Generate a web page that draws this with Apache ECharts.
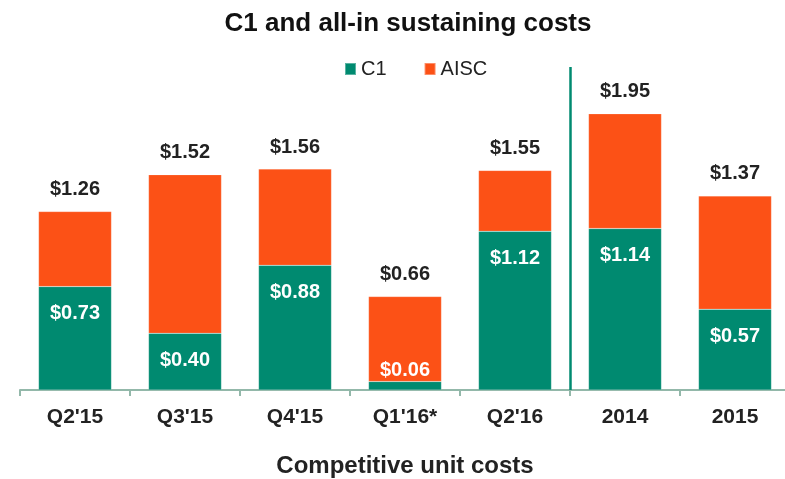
<!DOCTYPE html>
<html>
<head>
<meta charset="utf-8">
<script src="https://cdn.jsdelivr.net/npm/echarts@6/dist/echarts.min.js"></script>
<style>
  html, body { margin: 0; padding: 0; background: #fff; }
  #chart { width: 785px; height: 479px; }
</style>
</head>
<body>
<div id="chart"></div>
<script>
const categories = ["Q2'15", "Q3'15", "Q4'15", "Q1'16*", "Q2'16", '2014', '2015'];
const c1Values = [0.73, 0.40, 0.88, 0.06, 1.12, 1.14, 0.57];
const totalValues = [1.26, 1.52, 1.56, 0.66, 1.55, 1.95, 1.37];
const aiscValues = totalValues.map((t, i) => +(t - c1Values[i]).toFixed(2));
// quarterly figures on the left, full years on the right of the divider
const dividerAfter = 5;

const TEAL = '#008a70';
const ORANGE = '#fc5116';
const FONT = '"Liberation Sans", Arial, sans-serif';

const chart = echarts.init(document.getElementById('chart'));

const c1Data = c1Values.map(v => {
  // tiny segment: label sits above it, over the orange part
  if (v < 0.2) return { value: v, label: { position: 'top', distance: 1 } };
  return v;
});

chart.setOption({
  animation: false,
  textStyle: { fontFamily: FONT },
  title: {
    text: 'C1 and all-in sustaining costs',
    left: 403, top: 6, textAlign: 'center',
    textStyle: { fontSize: 26, fontWeight: 'bold', color: '#111', fontFamily: FONT }
  },
  legend: {
    top: 54, left: 339,
    itemWidth: 11, itemHeight: 12, itemGap: 37,
    icon: 'rect',
    textStyle: { fontSize: 20, color: '#222', fontFamily: FONT },
    data: ['C1', 'AISC']
  },
  grid: { left: 20, top: 67, width: 770, bottom: 89, containLabel: false, outerBoundsMode: 'none' },
  xAxis: [
    {
      type: 'category',
      data: categories,
      axisLine: { lineStyle: { color: '#93b8aa', width: 2 } },
      axisTick: { show: true, length: 6, lineStyle: { color: '#93b8aa', width: 2 } },
      axisLabel: { margin: 17, fontSize: 21, fontWeight: 'bold', color: '#222', fontFamily: FONT },
      name: 'Competitive unit costs',
      nameLocation: 'middle',
      nameGap: 64,
      nameTextStyle: { fontSize: 24, fontWeight: 'bold', color: '#222', fontFamily: FONT }
    },
    { type: 'value', min: 0, max: categories.length, show: false }
  ],
  yAxis: { type: 'value', min: 0, max: 2.28, show: false },
  series: [
    {
      name: 'C1', type: 'bar', stack: 'cost', barWidth: 73,
      itemStyle: { color: TEAL, borderColor: 'rgba(255,255,255,0.35)', borderWidth: 0.5 },
      label: {
        show: true, position: 'insideTop', distance: 17,
        color: '#fff', fontSize: 20, fontWeight: 'bold', fontFamily: FONT,
        formatter: p => '$' + p.value.toFixed(2)
      },
      data: c1Data
    },
    {
      name: 'AISC', type: 'bar', stack: 'cost', barWidth: 73,
      itemStyle: { color: ORANGE, borderColor: 'rgba(255,255,255,0.35)', borderWidth: 0.5 },
      label: {
        show: true, position: 'top', distance: 12,
        color: '#222', fontSize: 20, fontWeight: 'bold', fontFamily: FONT,
        formatter: p => '$' + totalValues[p.dataIndex].toFixed(2)
      },
      data: aiscValues
    },
    {
      name: 'divider', type: 'line', xAxisIndex: 1, data: [],
      markLine: {
        silent: true, symbol: 'none',
        label: { show: false },
        lineStyle: { color: TEAL, width: 2.5, type: 'solid' },
        data: [{ xAxis: dividerAfter }]
      }
    }
  ]
});
</script>
</body>
</html>
